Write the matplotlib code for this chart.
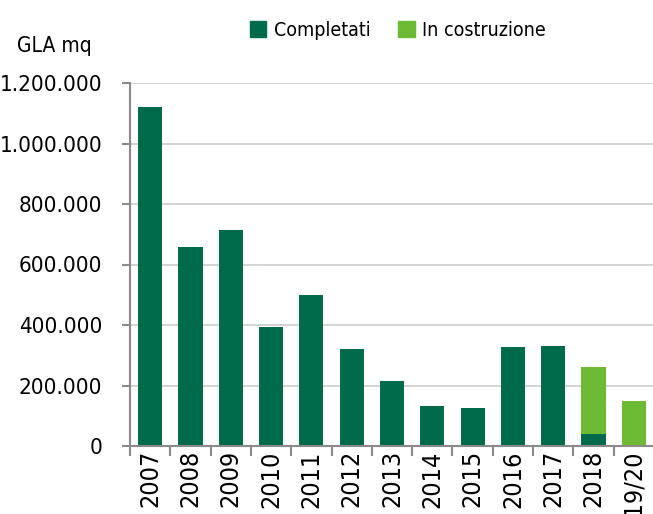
import matplotlib
matplotlib.use("Agg")
import matplotlib.pyplot as plt
from matplotlib.patches import Patch
from matplotlib.ticker import FuncFormatter, FixedLocator

categories = ["2007", "2008", "2009", "2010", "2011", "2012", "2013",
              "2014", "2015", "2016", "2017", "2018", "2019/20"]
completati = [1120000, 658000, 714000, 393000, 499000, 321000, 215000,
              132000, 126000, 327000, 330000, 40000, 0]
in_costruzione = [0, 0, 0, 0, 0, 0, 0, 0, 0, 0, 0, 221000, 149000]
yticks = [0, 200000, 400000, 600000, 800000, 1000000, 1200000]

dark = "#006B4A"
light = "#6DBB35"
plt.rcParams["font.family"] = ["DejaVu Sans"]
plt.rcParams["font.stretch"] = "condensed"

fig = plt.figure(figsize=(6.53, 5.14), dpi=100)
ax = fig.add_axes([130/653, 1-446/514, 524/653, (446-83)/514])

x = list(range(len(categories)))
ax.bar(x, completati, width=0.6, color=dark, zorder=3)
ax.bar(x, in_costruzione, width=0.6, bottom=completati, color=light, zorder=3)

ax.set_xlim(-0.5, len(categories) - 0.5)
ax.set_ylim(0, 1200000)
ax.set_yticks(yticks)
ax.yaxis.set_major_formatter(FuncFormatter(lambda v, p: f"{int(v):,}".replace(",", ".")))
ax.grid(axis="y", color="#d0d0d0", linewidth=1.3, zorder=0)

ax.set_xticks(x)
ax.set_xticklabels(categories, rotation=90)
ax.xaxis.set_minor_locator(FixedLocator([i - 0.5 for i in range(len(categories) + 1)]))
ax.tick_params(axis="x", which="major", length=0, pad=3, labelsize=18)
ax.tick_params(axis="x", which="minor", length=7, width=1.5, color="#8a8a8a")
ax.tick_params(axis="y", length=6, width=1.5, color="#8a8a8a", labelsize=16, pad=14)

for s in ["top", "right"]:
    ax.spines[s].set_visible(False)
for s in ["left", "bottom"]:
    ax.spines[s].set_color("#8a8a8a")
    ax.spines[s].set_linewidth(1.5)
ax.spines["bottom"].set_zorder(4)

fig.text(17/653, 1-46/514, "GLA mq", fontsize=15, va="center", ha="left")

handles = [Patch(color=dark, label="Completati"), Patch(color=light, label="In costruzione")]
fig.legend(handles=handles, loc="center", bbox_to_anchor=(398/653, 1-30/514), ncol=2,
           frameon=False, fontsize=14, handlelength=0.85, handleheight=0.85,
           handletextpad=0.4, columnspacing=1.4, borderpad=0, borderaxespad=0)

fig.savefig("out.png", dpi=100)
